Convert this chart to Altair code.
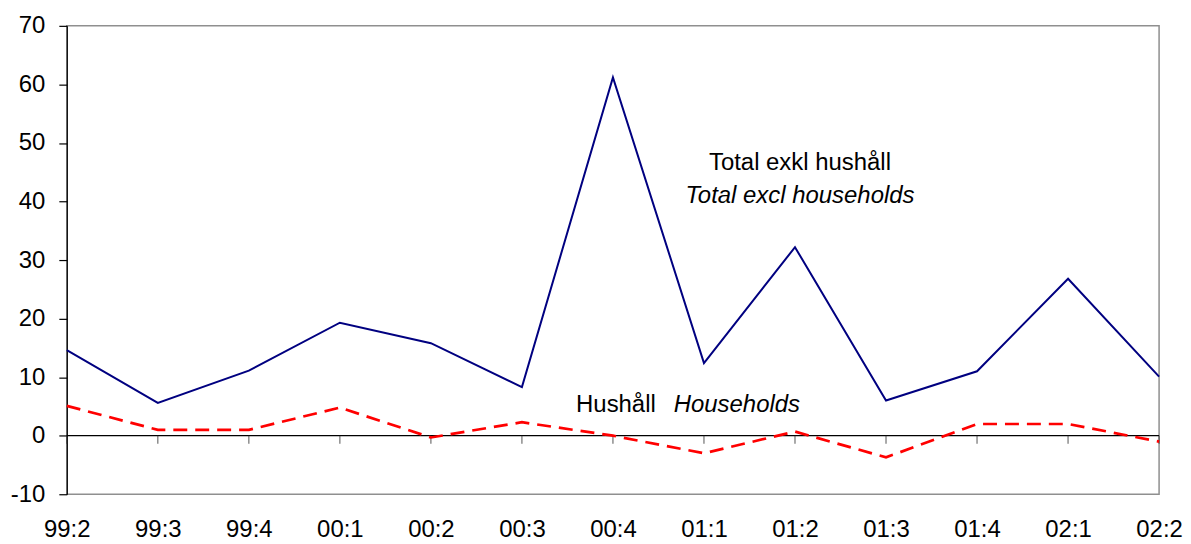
import altair as alt
import pandas as pd

periods = ["99:2", "99:3", "99:4", "00:1", "00:2", "00:3", "00:4",
           "01:1", "01:2", "01:3", "01:4", "02:1", "02:2"]
total = [14.6, 5.6, 11.1, 19.3, 15.8, 8.3, 61.2, 12.4, 32.2, 6.0, 11.0, 26.8, 10.1]
households = [5.1, 1.0, 1.0, 4.8, -0.3, 2.3, 0.0, -3.0, 0.7, -3.7, 2.0, 2.0, -1.0]
y_ticks = [-10, 0, 10, 20, 30, 40, 50, 60, 70]

ann_text = ["Total exkl hushåll", "Total excl households", "Hushåll", "Households"]
ann_period = ["01:2", "01:2", "00:4", "00:4"]
ann_value = [46.6, 41.0, 5.3, 5.3]

FONT = "Liberation Sans"
FS = 24

df = pd.DataFrame({"period": periods, "total": total, "households": households})
ann = pd.DataFrame({"text": ann_text, "period": ann_period, "value": ann_value})

x_scale = alt.Scale(type="point", padding=0)
x_enc = alt.X("period:O", sort=periods, scale=x_scale,
              axis=alt.Axis(title=None, labelAngle=0, domain=False, ticks=False,
                            labelPadding=23, labelFontSize=FS, labelFont=FONT,
                            labelColor="black"))
y_scale = alt.Scale(domain=[-10, 70], nice=False, zero=False)
y_axis = alt.Axis(title=None, values=y_ticks, grid=False, domainColor="black",
                  domainWidth=1.2, tickColor="black", tickSize=8, tickWidth=1.2,
                  labelPadding=14, labelFontSize=FS, labelFont=FONT, labelColor="black",
                  labelExpr="'' + datum.value")

base = alt.Chart(df)

zero = alt.Chart(pd.DataFrame({"z": [0]})).mark_rule(color="black", strokeWidth=1.2).encode(
    y=alt.Y("z:Q", scale=y_scale, axis=y_axis))

ticks = base.mark_tick(orient="vertical", size=8, thickness=1.2, color="#333333", yOffset=4).encode(
    x=x_enc, y=alt.Y("zero:Q", scale=y_scale)).transform_calculate(zero="0")

line_total = base.mark_line(color="#000080", strokeWidth=2).encode(
    x=x_enc, y=alt.Y("total:Q", scale=y_scale, axis=y_axis))

line_hh = base.mark_line(color="#ff0000", strokeWidth=2.7, strokeDash=[14, 8]).encode(
    x=x_enc, y=alt.Y("households:Q", scale=y_scale))


def label(i, **kw):
    return alt.Chart(ann.iloc[[i]]).mark_text(fontSize=FS, font=FONT, baseline="middle",
                                               color="black", **kw).encode(
        x=alt.X("period:O", sort=periods, scale=x_scale),
        y=alt.Y("value:Q", scale=y_scale), text="text:N")


t1 = label(0, align="center", dx=5)
t2 = label(1, align="center", dx=5, fontStyle="italic")
t3 = label(2, align="left", dx=-37)
t4 = label(3, align="left", dx=61, fontStyle="italic")

chart = alt.layer(zero, ticks, line_total, line_hh, t1, t2, t3, t4).properties(
    width=1096, height=470,
    autosize=alt.AutoSizeParams(type="none"),
    padding={"left": 59, "top": 17, "right": 24, "bottom": 46},
).configure_view(stroke="#8f8f8f", strokeWidth=1.5)

chart.save("out.html", embed_options={"renderer": "svg", "actions": False})
